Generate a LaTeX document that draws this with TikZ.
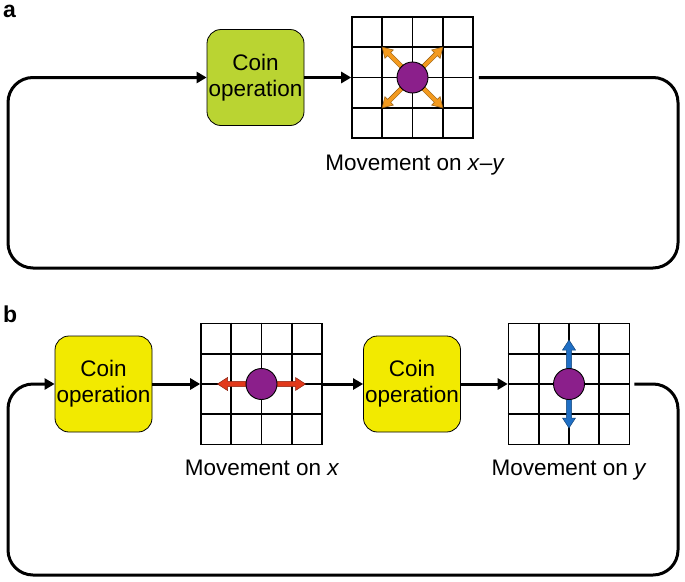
\documentclass[tikz,border=0pt]{standalone}
\usepackage{fontspec}
\setmainfont{Liberation Sans}
\usetikzlibrary{arrows.meta,calc}
\definecolor{coingreen}{HTML}{BAD432}
\definecolor{coinyellow}{HTML}{F2EA00}
\definecolor{walkerpurple}{HTML}{8B1F8B}
\definecolor{arrorange}{HTML}{F39A1E}
\definecolor{arrred}{HTML}{E2391B}
\definecolor{arrblue}{HTML}{1F6FC5}
\tikzset{
  coinbox/.style={draw=black, line width=0.8pt, rounded corners=14pt, minimum width=97pt, minimum height=96pt, align=center, font=\fontsize{22.5}{26}\selectfont, inner sep=0pt},
  flow/.style={line width=3pt, -{Triangle[length=10pt,width=11pt]}},
  feedback/.style={line width=3pt, rounded corners=25pt, -{Triangle[length=10pt,width=11pt]}},
  gridbox/.style={draw=black, line width=1.6pt, minimum size=121pt, inner sep=0pt},
  gridline/.style={line width=1.6pt},
  walker/.style={circle, draw=black, line width=0.9pt, fill=walkerpurple, minimum size=31pt, inner sep=0pt},
  movelabel/.style={font=\fontsize{22.5}{26}\selectfont, anchor=base, inner sep=0pt},
  panellabel/.style={font=\bfseries\fontsize{23}{26}\selectfont, anchor=base west, inner sep=0pt}
}
% lattice: #1 name, #2 centre
\newcommand\drawlattice[2]{%
  \node[gridbox] (#1) at (#2) {};
  \foreach \k in {-1,0,1} {
    \draw[gridline] ($(#1.north)+(\k*30.25,0)$) -- ($(#1.south)+(\k*30.25,0)$);
    \draw[gridline] ($(#1.west)+(0,\k*30.25)$) -- ($(#1.east)+(0,\k*30.25)$);
  }%
}
% fat arrow: #1 colour, #2 centre, #3 angle, #4 length, #5 shaft half width, #6 head half width
\newcommand\movearrow[6]{%
  \begin{scope}[shift={(#2)}, rotate=#3]
    \filldraw[fill=#1, draw=#1!60!black, line width=0.5pt]
      (14,-#5) -- (#4-10,-#5) -- (#4-10,-#6) -- (#4,0) -- (#4-10,#6) -- (#4-10,#5) -- (14,#5) -- cycle;
  \end{scope}%
}
\begin{document}
\begin{tikzpicture}[x=1pt,y=-1pt]
\useasboundingbox (0,0) rectangle (685,581);

% ---------- panel a ----------
\node[panellabel] (la) at (3,17) {a};
\node[coinbox, fill=coingreen] (coinA) at (255.5,77.5) {Coin\\operation};
\drawlattice{gA}{412.5,77.5}
\movearrow{arrorange}{412.5,77.5}{45}{43}{2.2}{6}
\movearrow{arrorange}{412.5,77.5}{135}{43}{2.2}{6}
\movearrow{arrorange}{412.5,77.5}{225}{43}{2.2}{6}
\movearrow{arrorange}{412.5,77.5}{315}{43}{2.2}{6}
\node[walker] (wA) at (gA.center) {};
\node[movelabel] (tA) at (415,170) {Movement on \textit{x}–\textit{y}};
\draw[flow] (coinA.east) -- (gA.west);
\draw[feedback] ($(gA.east)+(5,0)$) -- (678,77.5) -- (678,268) -- (8,268) -- (8,77.5) -- (coinA.west);

% ---------- panel b ----------
\node[panellabel] (lb) at (3,322) {b};
\node[coinbox, fill=coinyellow] (coinB1) at (103.5,384) {Coin\\operation};
\drawlattice{gB1}{261.5,384}
\movearrow{arrred}{261.5,384}{0}{44}{2.7}{6.5}
\movearrow{arrred}{261.5,384}{180}{44}{2.7}{6.5}
\node[walker] (wB1) at (gB1.center) {};
\node[movelabel] (tB1) at (262,475) {Movement on \textit{x}};

\node[coinbox, fill=coinyellow] (coinB2) at (412,384) {Coin\\operation};
\drawlattice{gB2}{569,384}
\movearrow{arrblue}{569,384}{90}{44}{2.7}{6.5}
\movearrow{arrblue}{569,384}{270}{44}{2.7}{6.5}
\node[walker] (wB2) at (gB2.center) {};
\node[movelabel] (tB2) at (569,475) {Movement on \textit{y}};

\draw[flow] (coinB1.east) -- (gB1.west);
\draw[flow] (gB1.east) -- (coinB2.west);
\draw[flow] (coinB2.east) -- (gB2.west);
\draw[feedback] ($(gB2.east)+(4,0)$) -- (678,384) -- (678,575) -- (8,575) -- (8,384) -- (coinB1.west);
\end{tikzpicture}
\end{document}
